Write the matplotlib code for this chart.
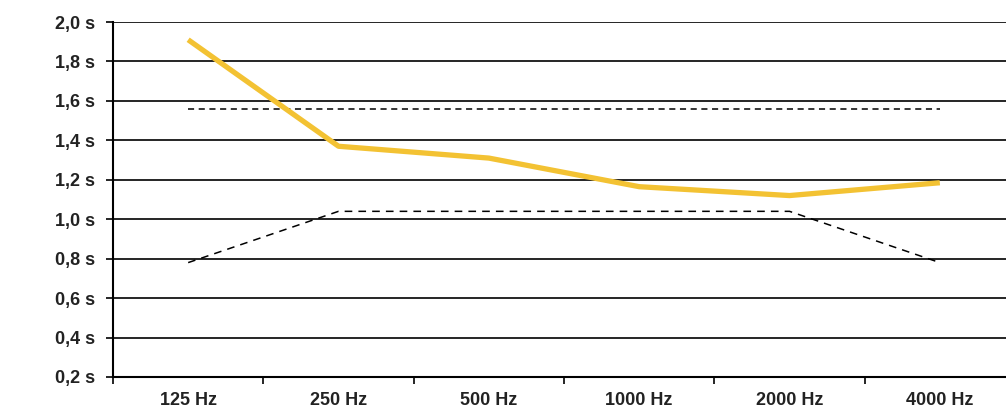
import numpy as np
import matplotlib.pyplot as plt
from matplotlib.ticker import FixedLocator, NullFormatter, FixedFormatter

bands = ['125 Hz', '250 Hz', '500 Hz', '1000 Hz', '2000 Hz', '4000 Hz']
rt_measured = [1.91, 1.37, 1.31, 1.165, 1.12, 1.185]
rt_upper = [1.56, 1.56, 1.56, 1.56, 1.56, 1.56]
rt_lower = [0.78, 1.04, 1.04, 1.04, 1.04, 0.78]
yticks = [0.2, 0.4, 0.6, 0.8, 1.0, 1.2, 1.4, 1.6, 1.8, 2.0]

plt.rcParams['font.family'] = ['Liberation Sans', 'DejaVu Sans']

fig = plt.figure(figsize=(10.06, 4.08), dpi=100)
ax = fig.add_axes([113 / 1006, 1 - 377 / 408, (1015 - 113) / 1006, (377 - 22) / 408])

x = np.arange(len(bands)) + 0.5

for v in yticks:
    ax.axhline(v, color='black', lw=1.2, zorder=1)

ax.plot(x, rt_upper, color='black', lw=1.1, ls=(0, (4, 3)), zorder=2)
ax.plot(x, rt_lower, color='black', lw=1.1, ls=(0, (5, 4)), zorder=2)
ax.plot(x, rt_measured, color='#F3C233', lw=3.8, zorder=3, solid_capstyle='butt')

ax.set_xlim(0, len(bands))
ax.set_ylim(0.2, 2.0)
ax.set_yticks(yticks)
ax.set_yticklabels([('%.1f s' % v).replace('.', ',') for v in yticks],
                   fontsize=13, fontweight='bold', color='#222222')

ax.xaxis.set_major_locator(FixedLocator(np.arange(len(bands) + 1)))
ax.xaxis.set_major_formatter(NullFormatter())
ax.xaxis.set_minor_locator(FixedLocator(x))
ax.xaxis.set_minor_formatter(FixedFormatter(bands))
ax.tick_params(axis='x', which='major', direction='out', length=5, width=1.2)
ax.tick_params(axis='x', which='minor', length=0, pad=11, labelsize=13)
for lbl in ax.get_xticklabels(minor=True):
    lbl.set_fontweight('bold')
    lbl.set_color('#222222')
ax.tick_params(axis='y', direction='out', length=5, width=1.2, pad=8)

for s in ['top', 'right']:
    ax.spines[s].set_visible(False)
for s in ['left', 'bottom']:
    ax.spines[s].set_linewidth(1.5)

plt.savefig('out.png', dpi=100)
